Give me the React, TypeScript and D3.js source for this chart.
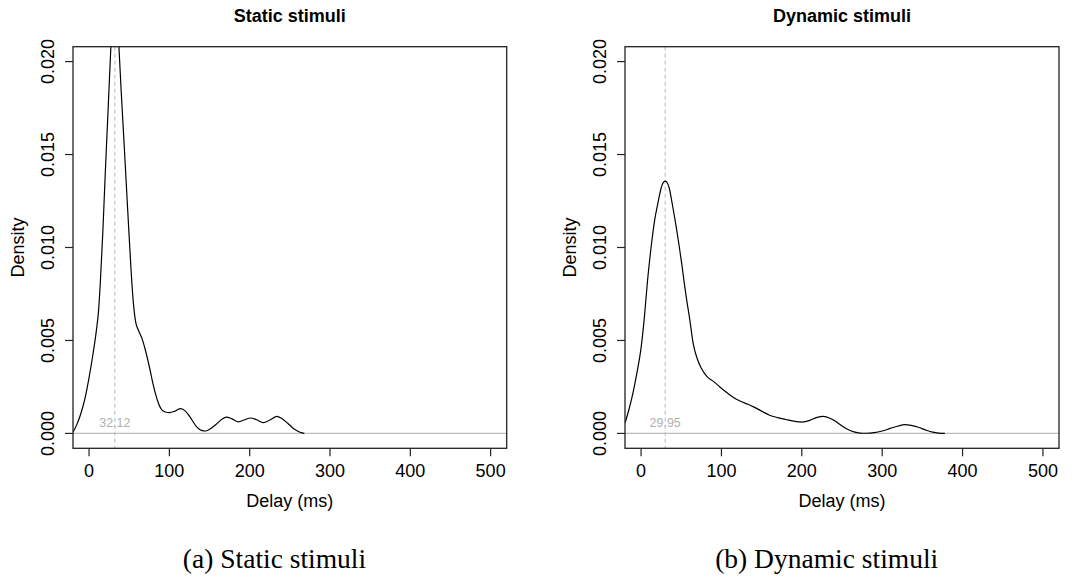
import React from 'react';
import * as d3 from 'd3';

// density estimates: [delay ms, density]
const staticDensity: Array<[number, number]> = [
  [-20, 0.00007], [-15, 0.0005], [-10, 0.0011], [-5, 0.0019], [0, 0.003], [5, 0.0043],
  [9, 0.0055], [12, 0.0067], [14, 0.0081], [17, 0.0107], [20, 0.0138], [24, 0.0177], [28, 0.0216],
  [32, 0.025], [36, 0.0218], [40, 0.0184], [44, 0.0153], [48, 0.0121], [52, 0.009],
  [55, 0.0071], [58, 0.006], [62, 0.0055], [66, 0.0051], [70, 0.0045], [75, 0.0036],
  [80, 0.0026], [85, 0.0018], [90, 0.0013], [95, 0.00115], [100, 0.00112], [107, 0.0012],
  [114, 0.00133], [120, 0.0012], [127, 0.0008], [134, 0.00035], [140, 0.00016],
  [145, 0.00013], [150, 0.00022], [158, 0.00048], [165, 0.00075], [171, 0.00088],
  [178, 0.00078], [186, 0.00062], [193, 0.00072], [201, 0.00083], [208, 0.00075],
  [217, 0.00058], [225, 0.00072], [234, 0.00092], [240, 0.0008], [247, 0.00056],
  [254, 0.00028], [260, 0.00012], [265, 0.00003], [268, 0],
];

const dynamicDensity: Array<[number, number]> = [
  [-20, 0.00055], [-15, 0.0013], [-10, 0.0022], [-5, 0.0033], [0, 0.0046], [4, 0.0062],
  [8, 0.0082], [13, 0.0102], [17, 0.0115], [21, 0.0124], [25, 0.0132], [28, 0.01352],
  [30, 0.01357], [32, 0.01352], [35, 0.0132], [39, 0.0123], [43, 0.0113], [47, 0.0102],
  [51, 0.009], [54, 0.008], [57, 0.0071], [60, 0.0063], [65, 0.0048],
  [70, 0.004], [75, 0.0035], [82, 0.00305], [90, 0.0028], [98, 0.0025], [105, 0.00225],
  [111, 0.00205], [118, 0.00185], [125, 0.0017], [133, 0.00157], [140, 0.00143],
  [150, 0.0012], [160, 0.00098], [170, 0.00085], [180, 0.00075], [190, 0.00066],
  [200, 0.00061], [210, 0.0007], [218, 0.00085], [227, 0.00092], [235, 0.00082],
  [242, 0.00065], [250, 0.0004], [258, 0.0002], [265, 0.00008], [272, 0.00002],
  [280, 0.00001], [290, 0.00004], [300, 0.00013], [310, 0.00027], [320, 0.0004],
  [328, 0.00047], [336, 0.00043], [345, 0.00033], [355, 0.00017], [363, 0.00007],
  [370, 0.00002], [378, 0],
];

const modes = [32.12, 29.95];
const modeLabels = ['32.12', '29.95'];
const titles = ['Static stimuli', 'Dynamic stimuli'];
const captions = ['(a) Static stimuli', '(b) Dynamic stimuli'];
const xTicks = [0, 100, 200, 300, 400, 500];
const yTicks = [0, 0.005, 0.01, 0.015, 0.02];

const sans = 'Liberation Sans, Arial, Helvetica, sans-serif';
const serif = 'Liberation Serif, Times New Roman, serif';

interface PanelProps {
  id: string;
  left: number;
  right: number;
  captionX: number;
  data: Array<[number, number]>;
  mode: number;
  modeLabel: string;
  title: string;
  caption: string;
}

function Panel({ id, left, right, captionX, data, mode, modeLabel, title, caption }: PanelProps) {
  const top = 46.7;
  const bottom = 448.3;

  // R style: limits padded by 4%
  const x = d3.scaleLinear().domain([-20, 520]).range([left, right]);
  const y = d3.scaleLinear().domain([-0.0008, 0.0208]).range([bottom, top]);

  const line = d3
    .line<[number, number]>()
    .x(d => x(d[0]))
    .y(d => y(d[1]))
    .curve(d3.curveMonotoneX);

  const cx = (left + right) / 2;

  return (
    <g>
      <defs>
        <clipPath id={id}>
          <rect x={left} y={top} width={right - left} height={bottom - top} />
        </clipPath>
      </defs>

      {/* zero line */}
      <line x1={left} x2={right} y1={y(0)} y2={y(0)} stroke="#bdbdbd" strokeWidth={1.2} />
      {/* mode marker */}
      <line x1={x(mode)} x2={x(mode)} y1={top} y2={bottom} stroke="#b8b8b8" strokeWidth={1} strokeDasharray="4,3" />
      <text x={x(mode)} y={427} textAnchor="middle" fontFamily={sans} fontSize={12.5} fill="#b0b0b0">
        {modeLabel}
      </text>

      <path d={line(data) ?? ''} fill="none" stroke="#000" strokeWidth={1.2} clipPath={`url(#${id})`} />

      <rect x={left} y={top} width={right - left} height={bottom - top} fill="none" stroke="#222" strokeWidth={1.3} />

      {xTicks.map(t => (
        <g key={t}>
          <line x1={x(t)} x2={x(t)} y1={bottom} y2={bottom + 8} stroke="#222" strokeWidth={1.2} />
          <text x={x(t)} y={476.5} textAnchor="middle" fontFamily={sans} fontSize={18} fill="#000">
            {t}
          </text>
        </g>
      ))}
      {yTicks.map(t => (
        <g key={t}>
          <line x1={left - 8} x2={left} y1={y(t)} y2={y(t)} stroke="#222" strokeWidth={1.2} />
          <text
            transform={`translate(${left - 19},${y(t)}) rotate(-90)`}
            textAnchor="middle"
            fontFamily={sans}
            fontSize={18}
            fill="#000"
          >
            {d3.format('.3f')(t)}
          </text>
        </g>
      ))}

      <text x={cx} y={506.5} textAnchor="middle" fontFamily={sans} fontSize={18} fill="#000">
        Delay (ms)
      </text>
      <text
        transform={`translate(${left - 49},${(top + bottom) / 2}) rotate(-90)`}
        textAnchor="middle"
        fontFamily={sans}
        fontSize={18}
        fill="#000"
      >
        Density
      </text>
      <text x={cx} y={22} textAnchor="middle" fontFamily={sans} fontSize={18} fontWeight="bold" fill="#000">
        {title}
      </text>

      <text x={captionX} y={568} textAnchor="middle" fontFamily={serif} fontSize={27.5} fill="#000">
        {caption}
      </text>
    </g>
  );
}

export default function App() {
  return (
    <svg
      width={1079}
      height={581}
      style={{ position: 'absolute', left: 0, top: 0, background: '#fff' }}
    >
      <rect width={1079} height={581} fill="#fff" />
      <Panel
        id="clip-a"
        left={73}
        right={506.7}
        captionX={274.5}
        data={staticDensity}
        mode={modes[0]}
        modeLabel={modeLabels[0]}
        title={titles[0]}
        caption={captions[0]}
      />
      <Panel
        id="clip-b"
        left={625}
        right={1059}
        captionX={826.7}
        data={dynamicDensity}
        mode={modes[1]}
        modeLabel={modeLabels[1]}
        title={titles[1]}
        caption={captions[1]}
      />
    </svg>
  );
}
